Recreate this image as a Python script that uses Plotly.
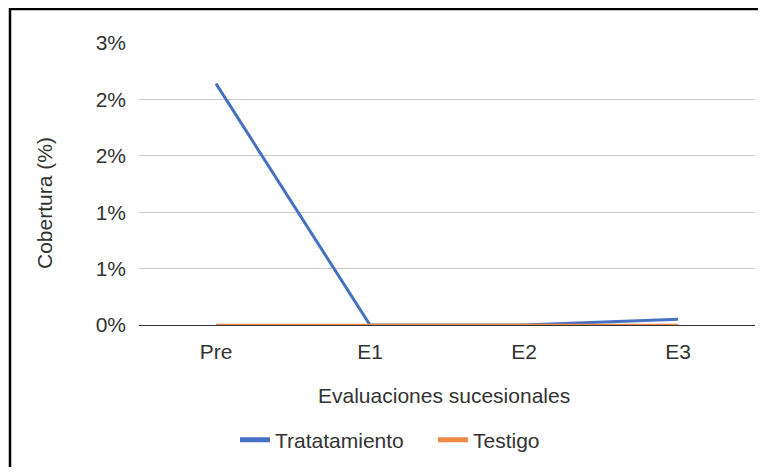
import plotly.graph_objects as go

# datos (cobertura en %)
evaluaciones = ["Pre", "E1", "E2", "E3"]
tratamiento = [2.14, 0.0, 0.0, 0.05]
testigo = [0.0, 0.0, 0.0, 0.0]

y_ticks = [0, 0.5, 1.0, 1.5, 2.0, 2.5]
y_ticktext = ["0%", "1%", "1%", "2%", "2%", "3%"]

series = [
    ("Tratatamiento", tratamiento, "#4670C2", 3),
    ("Testigo", testigo, "#EE8A45", 2.5),
]

FONT = "Liberation Sans, Arial, sans-serif"
TEXT = "#333333"
FS = 21

fig = go.Figure()

for name, vals, color, lw in series:
    fig.add_trace(go.Scatter(
        name=name,
        x=evaluaciones,
        y=vals,
        mode="lines",
        line=dict(color=color, width=lw),
        showlegend=False,
        legendgroup=name,
        hovertemplate="%{x}: %{y:.2f}%<extra>" + name + "</extra>",
    ))

# entradas de leyenda con trazo más grueso (como en Sheets)
for name, vals, color, lw in series:
    fig.add_trace(go.Scatter(
        name=name,
        x=[None],
        y=[None],
        mode="lines",
        line=dict(color=color, width=5),
        legendgroup=name,
        hoverinfo="skip",
    ))

# la página tiene 8px de margen en el body; el gráfico ocupa el resto
OFF = 8
W, H = 766 - 2 * OFF, 475 - 2 * OFF
# área de trazado en px de página: 139..755 x 43..325
L, T = 139 - OFF, 43 - OFF
R = W - (755 - OFF)
B = H - (325 - OFF)
pw, ph = W - L - R, H - T - B


def px_x(px):
    return (px - OFF - L) / pw


def px_y(py):
    return (H - B - (py - OFF)) / ph


fig.update_layout(
    width=W,
    height=H,
    paper_bgcolor="white",
    plot_bgcolor="white",
    font=dict(family=FONT, size=FS, color=TEXT),
    margin=dict(l=L, r=R, t=T, b=B),
    showlegend=True,
    legend=dict(
        orientation="h",
        x=px_x(433), xanchor="center",
        y=px_y(440), yanchor="middle",
        font=dict(size=FS, color=TEXT),
        itemwidth=30,
        entrywidth=153,
    ),
    xaxis=dict(
        showgrid=False,
        showline=True,
        linecolor="#333333",
        linewidth=1,
        layer="below traces",
        ticks="",
        ticklabelstandoff=8,
        tickfont=dict(size=FS, color=TEXT),
        range=[-0.5, 3.5],
    ),
    yaxis=dict(
        range=[0, 2.5],
        tickvals=y_ticks,
        ticktext=y_ticktext,
        showgrid=True,
        gridcolor="#CCCCCC",
        gridwidth=1,
        zeroline=False,
        showline=False,
        ticks="",
        ticklabelstandoff=12,
        tickfont=dict(size=FS, color=TEXT),
    ),
    annotations=[
        dict(text="Evaluaciones sucesionales", x=px_x(444), y=px_y(395),
             xref="paper", yref="paper", showarrow=False,
             xanchor="center", yanchor="middle",
             font=dict(size=FS, color=TEXT)),
        dict(text="Cobertura (%)", x=px_x(45), y=px_y(203),
             xref="paper", yref="paper", showarrow=False, textangle=-90,
             xanchor="center", yanchor="middle",
             font=dict(size=FS, color=TEXT)),
    ],
    shapes=[
        # marco recortado: solo bordes superior e izquierdo
        dict(type="line", xref="paper", yref="paper",
             x0=px_x(10), x1=px_x(780), y0=px_y(9), y1=px_y(9),
             line=dict(color="black", width=2.5)),
        dict(type="line", xref="paper", yref="paper",
             x0=px_x(10), x1=px_x(10), y0=px_y(8), y1=px_y(480),
             line=dict(color="black", width=2.5)),
    ],
)

fig.write_html("out.html")
